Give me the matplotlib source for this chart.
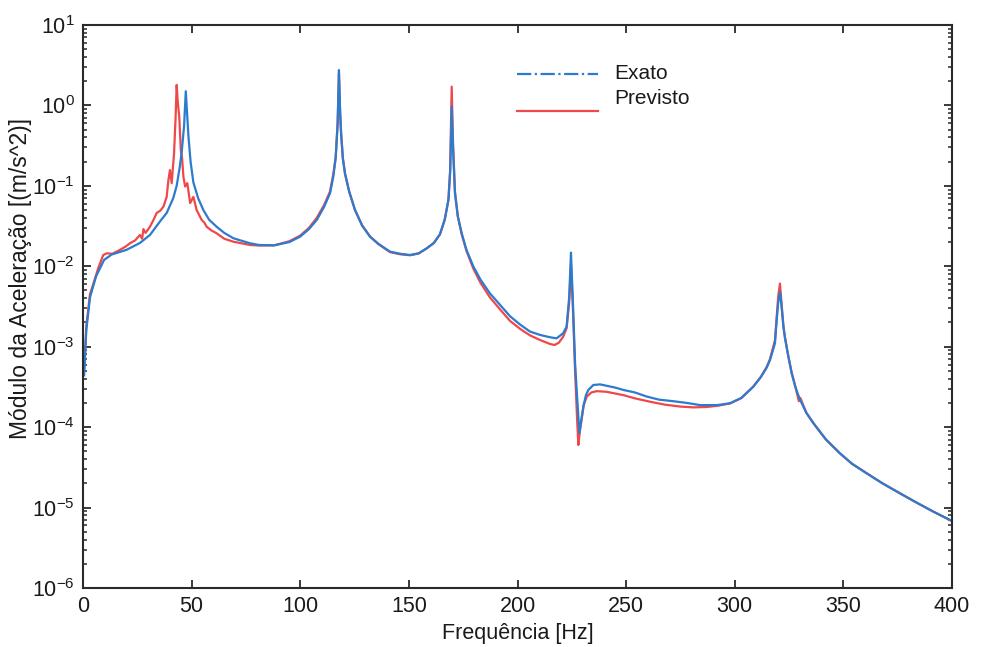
import numpy as np
import matplotlib
matplotlib.use('Agg')
import matplotlib.pyplot as plt
from matplotlib.lines import Line2D
from matplotlib.ticker import (LogLocator, LogFormatterMathtext, MultipleLocator,
                               NullFormatter, FixedLocator)

# Exato (blue)
f_exato = [0.5, 1.5, 3.2, 6, 9.7, 13.2, 20, 26.2, 30.8, 35.4, 38.5, 41.5, 43.1, 44.5, 45.4,
           46.5, 47.3, 48.0, 48.5, 49.5, 50.8, 53, 55.4, 58, 61.5, 65, 69.2, 76.9, 81, 88,
           95, 99.9, 104, 107.6, 111, 113.7, 115.2, 116.3, 117.2, 117.8, 118.3, 118.8, 119.6,
           120.6, 122.5, 125.2, 128.5, 132.1, 136, 141.3, 146, 150.5, 154.5, 158.2, 161.5,
           164.3, 166.5, 168.2, 169.0, 169.7, 170.3, 171.2, 172.5, 174.3, 176.5, 179.7, 183,
           187.3, 192, 196.5, 201, 205.8, 210.4, 215, 218, 221, 222.6, 223.8, 224.6, 225.4,
           226.5, 227.5, 228.5, 229.3, 230.3, 231.5, 232.6, 234.9, 238, 241, 245, 248.7, 254,
           259.5, 265, 271.7, 277.9, 284, 287, 292, 297.8, 303, 308.5, 312, 314.7, 316.2,
           318.5, 319.3, 320.0, 320.8, 321.4, 322.4, 323.1, 324.5, 326.2, 328, 330, 333,
           336.2, 342, 348.5, 354, 360.7, 368, 376.1, 383, 391.4, 400]
a_exato = [4.4e-4, 1.6e-3, 4.1e-3, 7.5e-3, 1.2e-2, 1.4e-2, 1.6e-2, 1.95e-2, 2.45e-2, 3.6e-2,
           4.6e-2, 7.0e-2, 0.10, 0.17, 0.26, 0.55, 1.5, 0.7, 0.42, 0.2, 0.11, 0.07, 0.05,
           0.038, 0.031, 0.026, 0.0223, 0.0193, 0.0184, 0.0182, 0.0200, 0.0233, 0.029, 0.0377,
           0.055, 0.081, 0.13, 0.22, 0.6, 2.75, 0.9, 0.45, 0.22, 0.143, 0.085, 0.05, 0.032,
           0.0233, 0.019, 0.0152, 0.0143, 0.0138, 0.0145, 0.0167, 0.0195, 0.025, 0.038, 0.067,
           0.15, 0.97, 0.3, 0.081, 0.042, 0.0257, 0.016, 0.0099, 0.0068, 0.0046, 0.0033,
           0.0024, 0.0019, 0.00154, 0.0014, 0.00131, 0.00127, 0.00147, 0.00177, 0.0042,
           0.0148, 0.0042, 0.00062, 0.00022, 8.4e-5, 1.2e-4, 1.8e-4, 2.5e-4, 2.9e-4, 3.34e-4,
           3.4e-4, 3.27e-4, 3.1e-4, 2.9e-4, 2.7e-4, 2.4e-4, 2.2e-4, 2.1e-4, 2.0e-4, 1.88e-4,
           1.88e-4, 1.88e-4, 1.98e-4, 2.3e-4, 3.18e-4, 4.2e-4, 5.5e-4, 6.8e-4, 1.1e-3, 2.15e-3,
           3.5e-3, 4.8e-3, 3.5e-3, 1.77e-3, 1.3e-3, 8.0e-4, 4.7e-4, 3.1e-4, 2.2e-4, 1.5e-4,
           1.12e-4, 7.0e-5, 4.7e-5, 3.5e-5, 2.67e-5, 2.0e-5, 1.5e-5, 1.18e-5, 8.9e-6, 6.8e-6]

# Previsto (red)
f_previsto = [0.5, 1.5, 3.2, 4.8, 7, 9.3, 11, 13.5, 17, 19.5, 21.6, 24, 26.2, 27.2, 27.8, 28.8,
              30.8, 32.5, 33.9, 35.5, 37, 38.5, 39.3, 40, 40.8, 41.9, 42.6, 43.1, 43.6, 44.3,
              45, 45.6, 46.2, 47, 48, 49.3, 50.8, 52.3, 53.5, 54.6, 55.8, 56.9, 59, 61.5, 65,
              69.2, 76.9, 81, 88, 95, 99.9, 104, 107.6, 111, 113.7, 115.2, 116.3, 117.2, 117.8,
              118.3, 118.8, 119.6, 120.6, 122.5, 125.2, 128.5, 132.1, 136, 141.3, 146, 150.5,
              154.5, 158.2, 161.5, 164.3, 166.5, 168.2, 169.0, 169.7, 170.3, 171.2, 172.5, 174.3,
              176.5, 179.7, 183, 187.3, 192, 196.5, 201, 205.8, 210.4, 215, 217, 219, 221, 222.6,
              223.8, 224.6, 225.4, 226.5, 227.3, 228, 228.7, 229.5, 230.5, 231.9, 234, 236.5,
              241, 248.7, 254, 261, 268, 275, 281, 287, 292, 297.8, 303, 308.5, 312, 314.7,
              316.2, 318.5, 319.3, 320.0, 320.8, 321.4, 322.4, 323.1, 324.5, 326.2, 328, 329.5,
              330.2, 333, 336.2, 342, 348.5, 354, 360.7, 368, 376.1, 383, 391.4, 400]
a_previsto = [5.0e-4, 1.8e-3, 4.5e-3, 6.1e-3, 9.5e-3, 1.38e-2, 1.45e-2, 1.43e-2, 1.6e-2, 1.75e-2,
              1.93e-2, 2.1e-2, 2.45e-2, 2.2e-2, 2.9e-2, 2.6e-2, 3.1e-2, 3.8e-2, 4.6e-2, 4.9e-2,
              5.5e-2, 7.3e-2, 0.118, 0.157, 0.108, 0.254, 0.7, 1.8, 1.1, 0.72, 0.279, 0.22,
              0.13, 0.098, 0.108, 0.061, 0.073, 0.050, 0.043, 0.0377, 0.035, 0.031, 0.028,
              0.0257, 0.022, 0.0202, 0.0184, 0.0181, 0.0182, 0.0205, 0.024, 0.030, 0.040,
              0.058, 0.085, 0.14, 0.23, 0.6, 2.5, 0.85, 0.44, 0.22, 0.14, 0.085, 0.05, 0.032,
              0.0235, 0.0188, 0.015, 0.0141, 0.0137, 0.0144, 0.0167, 0.0195, 0.025, 0.038,
              0.067, 0.16, 1.71, 0.35, 0.085, 0.042, 0.025, 0.0155, 0.0093, 0.0062, 0.0041,
              0.0029, 0.0021, 0.00168, 0.00138, 0.00121, 0.00108, 0.00105, 0.00112, 0.00133,
              0.0017, 0.0036, 0.0105, 0.0035, 5.0e-4, 1.5e-4, 6.0e-5, 9.0e-5, 1.23e-4, 1.9e-4,
              2.4e-4, 2.7e-4, 2.8e-4, 2.75e-4, 2.5e-4, 2.28e-4, 2.07e-4, 1.9e-4, 1.8e-4,
              1.76e-4, 1.78e-4, 1.84e-4, 1.97e-4, 2.3e-4, 3.18e-4, 4.2e-4, 5.6e-4, 7.0e-4,
              1.2e-3, 2.3e-3, 4.2e-3, 6.1e-3, 3.8e-3, 1.8e-3, 1.3e-3, 8.0e-4, 4.7e-4, 3.1e-4,
              2.1e-4, 2.3e-4, 1.5e-4, 1.12e-4, 7.0e-5, 4.7e-5, 3.5e-5, 2.67e-5, 2.0e-5, 1.5e-5,
              1.18e-5, 8.9e-6, 6.8e-6]

y_decades = [1e-6, 1e-5, 1e-4, 1e-3, 1e-2, 1e-1, 1e0, 1e1]

blue = '#2b7bcf'
red = '#f04848'
frame = '#2a2a2a'
txt = '#1a1a1a'

plt.rcParams['font.family'] = ['Liberation Sans', 'DejaVu Sans']
plt.rcParams['axes.unicode_minus'] = False
plt.rcParams['mathtext.fontset'] = 'custom'
plt.rcParams['mathtext.rm'] = 'Liberation Sans'

fig = plt.figure(figsize=(9.85, 6.47), dpi=100)
ax = fig.add_axes([0.0843, 0.0912, 0.8822, 0.8702])

ax.plot(f_previsto, a_previsto, color=red, lw=1.6)
ax.plot(f_exato, a_exato, color=blue, lw=1.6)

ax.set_yscale('log')
ax.set_xlim(0, 400)
ax.set_ylim(1e-6, 1e1)
ax.xaxis.set_major_locator(MultipleLocator(50))
ax.yaxis.set_major_locator(FixedLocator(y_decades))
ax.yaxis.set_minor_locator(LogLocator(base=10, subs=np.arange(2, 10), numticks=10))
ax.yaxis.set_major_formatter(LogFormatterMathtext())
ax.yaxis.set_minor_formatter(NullFormatter())

ax.tick_params(which='both', direction='in', top=True, right=True, colors=frame,
               labelcolor=txt, labelsize=15.5, pad=6)
ax.tick_params(which='major', length=6, width=1.3)
ax.tick_params(which='minor', length=3, width=1.1)
for s in ax.spines.values():
    s.set_color(frame)
    s.set_linewidth(1.5)

ax.set_xlabel('Frequência [Hz]', fontsize=15.5, color=txt, labelpad=4)
ax.set_ylabel('Módulo da Aceleração [(m/s^2)]', fontsize=16.5, color=txt)
ax.yaxis.set_label_coords(-0.059, 0.55)

# legend drawn in the MATLAB layout (no frame)
ax.add_line(Line2D([0.499, 0.593], [0.913, 0.913], transform=ax.transAxes,
                   color=blue, lw=1.6, ls='-.'))
ax.add_line(Line2D([0.499, 0.593], [0.847, 0.847], transform=ax.transAxes,
                   color=red, lw=1.6))
ax.text(0.611, 0.913, 'Exato', transform=ax.transAxes, fontsize=15, va='center', color=txt)
ax.text(0.611, 0.869, 'Previsto', transform=ax.transAxes, fontsize=15, va='center', color=txt)

fig.savefig('out.png', dpi=100)
